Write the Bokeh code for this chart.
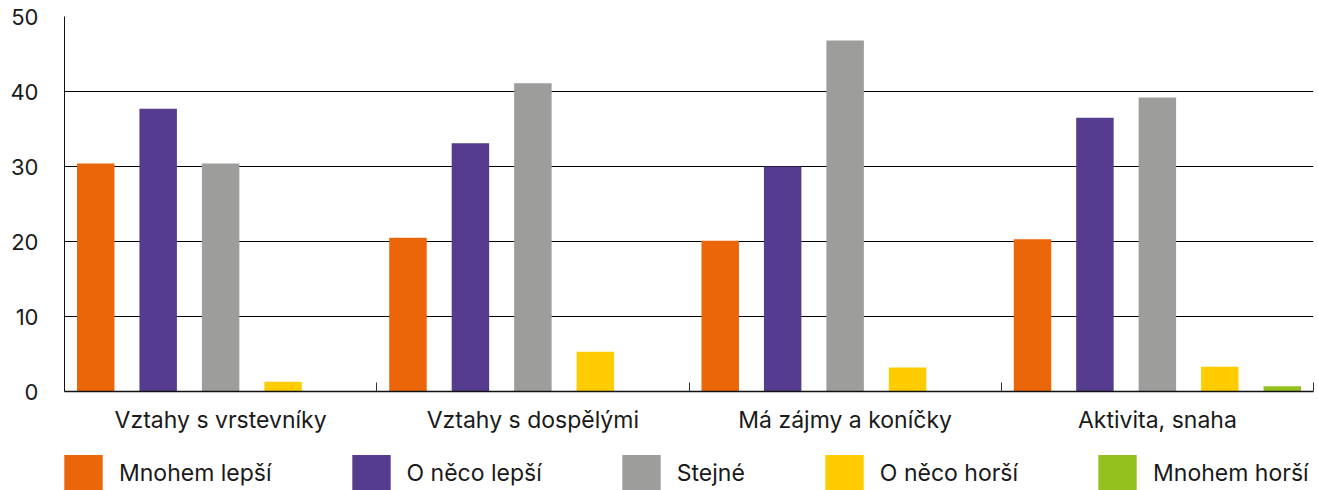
from bokeh.plotting import figure
from bokeh.models import Range1d, FixedTicker, Legend, LegendItem
from bokeh.layouts import column
from bokeh.transform import dodge
from bokeh.embed import file_html
from bokeh.resources import INLINE

categories = ["Vztahy s vrstevníky", "Vztahy s dospělými", "Má zájmy a koníčky", "Aktivita, snaha"]
series = ["Mnohem lepší", "O něco lepší", "Stejné", "O něco horší", "Mnohem horší"]
mnohem_lepsi = [30.4, 20.5, 20.1, 20.3]
o_neco_lepsi = [37.7, 33.1, 30.0, 36.5]
stejne = [30.4, 41.1, 46.8, 39.2]
o_neco_horsi = [1.3, 5.3, 3.2, 3.3]
mnohem_horsi = [0.0, 0.0, 0.0, 0.7]
colors = ["#EB6608", "#553C8E", "#9D9D9C", "#FFCC00", "#95C11F"]
y_ticks = [0, 10, 20, 30, 40, 50]

values = [mnohem_lepsi, o_neco_lepsi, stejne, o_neco_horsi, mnohem_horsi]
centers = [i + 0.5 for i in range(len(categories))]

FONT = "Inter"
TXT = "#1a1a1a"

p = figure(width=1318, height=445, output_backend="svg", toolbar_location=None,
           x_range=Range1d(0, len(categories)), y_range=Range1d(0, 50),
           min_border_left=64, min_border_right=5, min_border_top=16, min_border_bottom=54)
p.outline_line_color = None

n = len(series)
slot = 1.0 / n
for k, (name, vals, col) in enumerate(zip(series, values, colors)):
    src = {"x": centers, "top": vals}
    p.vbar(x=dodge("x", -0.5 + slot * (k + 0.5), range=p.x_range), top="top", bottom=0,
           width=slot * 0.6, source=src, fill_color=col, line_color=None)

# x axis
xa = p.xaxis[0]
xa.ticker = FixedTicker(ticks=centers, minor_ticks=list(range(len(categories) + 1)))
xa.major_label_overrides = {c: cat for c, cat in zip(centers, categories)}
xa.major_tick_line_color = None
xa.minor_tick_in = 9
xa.minor_tick_out = 0
xa.minor_tick_line_color = "#333333"
xa.axis_line_color = "#111111"
xa.axis_line_width = 1.5
xa.major_label_text_font = FONT
xa.major_label_text_font_size = "23px"
xa.major_label_text_color = TXT
xa.major_label_standoff = 8

# y axis
ya = p.yaxis[0]
ya.ticker = FixedTicker(ticks=y_ticks)
ya.major_tick_line_color = None
ya.minor_tick_line_color = None
ya.axis_line_color = "#111111"
ya.major_label_text_font = FONT
ya.major_label_text_font_size = "22px"
ya.major_label_text_color = TXT
ya.major_label_standoff = 20

p.xgrid.grid_line_color = None
p.ygrid.ticker = FixedTicker(ticks=y_ticks)
p.ygrid.grid_line_color = "#000000"
p.ygrid.grid_line_width = 1

# legend figure (proxy renderers drawn outside its visible range)
lf = figure(width=1318, height=45, output_backend="svg", toolbar_location=None,
            x_range=Range1d(0, len(categories)), y_range=Range1d(100, 101),
            x_axis_location=None, y_axis_location=None,
            min_border_left=64, min_border_right=0, min_border_top=5, min_border_bottom=0)
lf.outline_line_color = None
lf.xgrid.grid_line_color = None
lf.ygrid.grid_line_color = None
items = []
for k, (name, vals, col) in enumerate(zip(series, values, colors)):
    src = {"x": centers, "top": vals}
    r = lf.vbar(x="x", top="top", bottom=0, width=0.1, source=src,
                fill_color=col, line_color=None)
    items.append(LegendItem(label=name, renderers=[r]))

legend = Legend(items=items, orientation="horizontal", location=(-5, -5),
                glyph_width=48, glyph_height=45, label_standoff=12, spacing=75,
                padding=0, margin=0, border_line_color=None, background_fill_alpha=0,
                label_text_font=FONT, label_text_font_size="23px",
                label_text_color=TXT, label_height=45)
lf.add_layout(legend, "center")

layout = column(p, lf, spacing=0)

with open("out.html", "w") as f:
    f.write(file_html(layout, INLINE))
